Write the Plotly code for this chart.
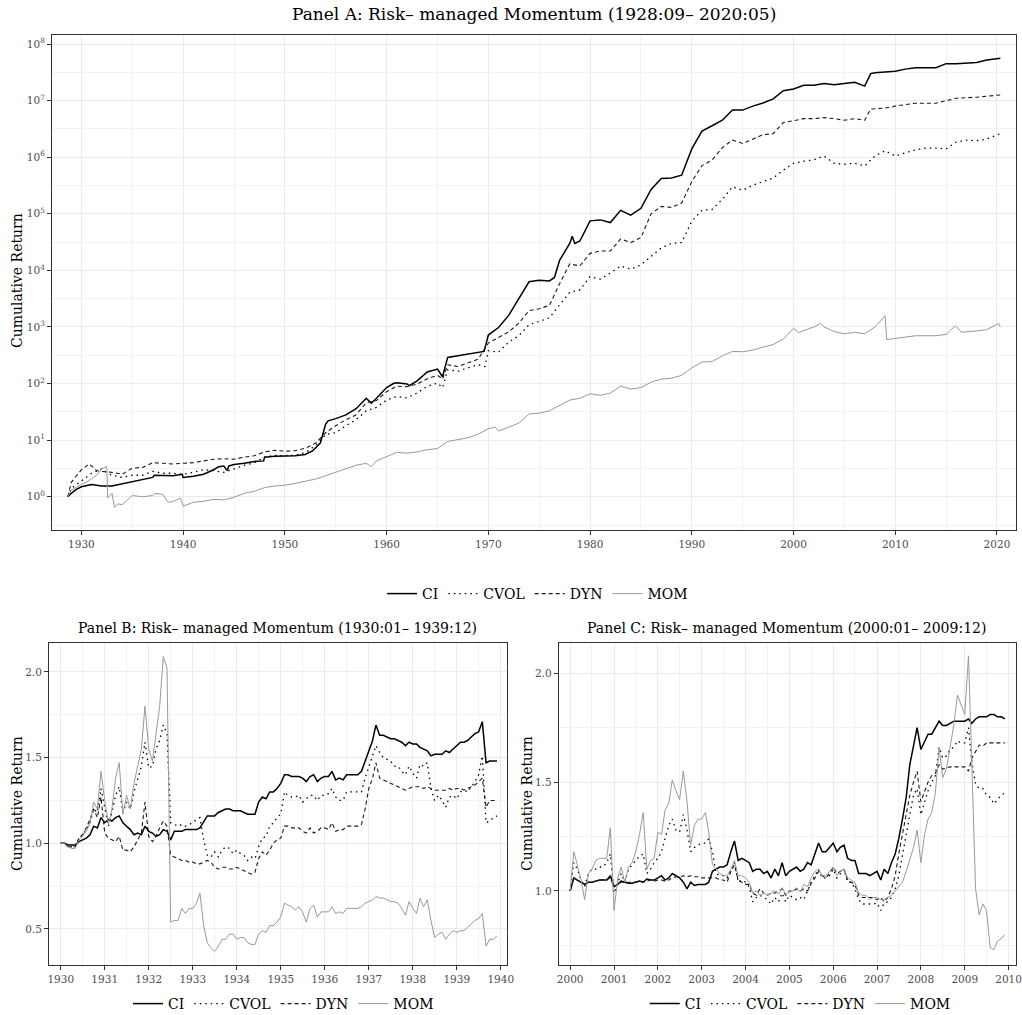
import pandas as pd
import plotly.graph_objects as go

FONT = "DejaVu Serif"

# ---------------- Panel A: 1928:09 - 2020:05 (log scale) ----------------
ci_a_dates = ["1928-09", "1929-01", "1929-07", "1930-01", "1931-01", "1932-01", "1933-01", "1934-01",
              "1935-01", "1936-01", "1937-01", "1937-03", "1938-01", "1939-01", "1939-12", "1940-01",
              "1941-01", "1942-01", "1943-01", "1943-07", "1944-01", "1944-05", "1944-07", "1945-01",
              "1946-01", "1947-01", "1947-12", "1948-01", "1949-01", "1950-01", "1951-01", "1952-01",
              "1952-10", "1953-07", "1954-01", "1954-04", "1955-01", "1956-01", "1957-01", "1958-01",
              "1958-07", "1959-01", "1960-01", "1960-09", "1961-01", "1962-01", "1962-04", "1963-01",
              "1964-01", "1965-01", "1965-07", "1966-01", "1967-01", "1968-01", "1969-01", "1969-08",
              "1970-01", "1971-01", "1972-01", "1973-01", "1974-01", "1975-01", "1976-01", "1976-07",
              "1977-01", "1978-01", "1978-04", "1978-07", "1979-01", "1980-01", "1981-01", "1982-01",
              "1983-01", "1984-01", "1984-07", "1985-01", "1986-01", "1987-01", "1988-01", "1989-01",
              "1990-01", "1991-01", "1992-01", "1993-01", "1994-01", "1995-01", "1996-01", "1997-01",
              "1998-01", "1999-01", "2000-01", "2001-01", "2002-01", "2003-01", "2004-01", "2005-01",
              "2006-01", "2007-01", "2007-08", "2008-01", "2010-01", "2011-01", "2012-01", "2014-01",
              "2015-01", "2016-01", "2018-01", "2019-01", "2020-05"]
ci_a = [1.0, 1.15, 1.35, 1.5, 1.65, 1.55, 1.55, 1.7,
        1.85, 2.05, 2.2, 2.4, 2.35, 2.35, 2.5, 2.2,
        2.3, 2.5, 3.0, 3.4, 3.5, 2.9, 3.5, 3.7,
        3.9, 4.2, 4.3, 5.0, 5.2, 5.2, 5.3, 5.6,
        6.5, 9.0, 19, 22, 24, 28, 36, 55,
        45, 55, 85, 100, 103, 98, 92, 112,
        160, 180, 132, 290, 310, 335, 360, 370,
        720, 980, 1600, 3200, 6300, 6700, 6500, 7500,
        15000, 30000, 40000, 30000, 33000, 75000, 78000, 70000,
        115000, 95000, 110000, 125000, 270000, 420000, 430000, 480000,
        1.4e6, 2.9e6, 3.6e6, 4.5e6, 6.8e6, 6.8e6, 8.0e6, 9.1e6,
        1.07e7, 1.5e7, 1.6e7, 1.86e7, 1.86e7, 2.0e7, 1.9e7, 2.0e7,
        2.1e7, 1.8e7, 3.0e7, 3.1e7, 3.3e7, 3.6e7, 3.8e7, 3.8e7,
        4.5e7, 4.5e7, 4.7e7, 5.2e7, 5.6e7]

dyn_a_dates = ["1928-09", "1929-01", "1930-01", "1930-10", "1931-01", "1931-07", "1932-01", "1933-01",
               "1934-01", "1935-01", "1936-01", "1937-01", "1938-01", "1939-01", "1940-01", "1941-01",
               "1942-01", "1943-01", "1944-01", "1945-01", "1946-01", "1947-01", "1948-01", "1949-01",
               "1950-01", "1951-01", "1952-01", "1953-01", "1954-01", "1955-01", "1956-01", "1957-01",
               "1958-01", "1959-01", "1960-01", "1961-01", "1962-01", "1963-01", "1964-01", "1965-01",
               "1965-07", "1966-01", "1967-01", "1968-01", "1969-01", "1970-01", "1971-01", "1972-01",
               "1973-01", "1974-01", "1975-01", "1976-01", "1977-01", "1978-01", "1979-01", "1980-01",
               "1981-01", "1982-01", "1983-01", "1984-01", "1985-01", "1986-01", "1987-01", "1988-01",
               "1989-01", "1990-01", "1991-01", "1992-01", "1993-01", "1994-01", "1995-01", "1996-01",
               "1997-01", "1998-01", "1999-01", "2000-01", "2001-01", "2002-01", "2003-01", "2004-01",
               "2005-01", "2006-01", "2007-01", "2007-08", "2009-01", "2010-01", "2012-01", "2014-01",
               "2015-01", "2016-01", "2018-01", "2019-01", "2020-05"]
dyn_a = [1.0, 1.8, 3.0, 3.8, 3.5, 2.9, 2.8, 2.7,
         2.5, 3.2, 3.3, 4.0, 3.9, 3.8, 3.9, 4.0,
         4.3, 4.6, 4.7, 4.6, 5.0, 5.3, 6.2, 6.6,
         6.4, 6.5, 7.2, 8.8, 13.5, 18, 23, 28,
         46, 50, 72, 90, 88, 98, 122, 140,
         120, 215, 200, 235, 270, 520, 650, 820,
         1170, 1950, 2100, 2400, 5800, 13000, 12000, 20000,
         22000, 22000, 36000, 31000, 38000, 100000, 135000, 130000,
         155000, 370000, 710000, 890000, 1.48e6, 2.0e6, 1.75e6, 2.1e6,
         2.5e6, 2.6e6, 4.1e6, 4.4e6, 4.8e6, 4.8e6, 5.0e6, 4.8e6,
         4.5e6, 4.8e6, 4.5e6, 7.1e6, 7.4e6, 8.0e6, 9.0e6, 9.0e6,
         1.0e7, 1.1e7, 1.15e7, 1.2e7, 1.26e7]

cvol_a_dates = ["1928-09", "1929-01", "1930-01", "1931-01", "1932-01", "1932-08", "1933-01", "1934-01",
                "1935-01", "1936-01", "1937-01", "1938-01", "1939-01", "1940-01", "1941-01", "1942-01",
                "1943-01", "1944-01", "1945-01", "1946-01", "1947-01", "1948-01", "1949-01", "1950-01",
                "1951-01", "1952-01", "1953-01", "1954-01", "1955-01", "1956-01", "1957-01", "1958-01",
                "1959-01", "1960-01", "1961-01", "1962-01", "1963-01", "1964-01", "1965-01", "1965-07",
                "1966-01", "1967-01", "1968-01", "1969-01", "1969-09", "1970-01", "1971-01", "1972-01",
                "1973-01", "1974-01", "1975-01", "1976-01", "1977-01", "1978-01", "1979-01", "1980-01",
                "1981-01", "1982-01", "1983-01", "1984-01", "1985-01", "1986-01", "1987-01", "1988-01",
                "1989-01", "1990-01", "1991-01", "1992-01", "1993-01", "1994-01", "1995-01", "1996-01",
                "1997-01", "1998-01", "1999-01", "2000-01", "2001-01", "2002-01", "2003-01", "2004-01",
                "2005-01", "2006-01", "2007-01", "2008-01", "2009-01", "2010-01", "2011-01", "2012-01",
                "2013-01", "2014-01", "2015-01", "2016-01", "2017-01", "2018-01", "2019-01", "2020-05"]
cvol_a = [1.0, 1.4, 1.9, 2.6, 3.1, 2.6, 2.4, 2.2,
          2.4, 2.4, 2.8, 2.6, 2.6, 2.5, 2.7, 3.0,
          2.9, 2.7, 3.1, 3.6, 4.0, 5.0, 5.4, 5.3,
          5.4, 6.0, 8.0, 12.5, 13.5, 18, 23, 33,
          38, 51, 59, 56, 68, 90, 102, 85,
          175, 165, 190, 215, 200, 380, 360, 540,
          700, 1100, 1260, 1450, 2450, 4100, 4500, 7800,
          7000, 9000, 12000, 10500, 12500, 17500, 25000, 30000,
          31000, 74000, 115000, 120000, 180000, 300000, 260000, 320000,
          370000, 430000, 590000, 780000, 850000, 900000, 1.05e6, 780000,
          750000, 780000, 700000, 1.05e6, 1.3e6, 1.05e6, 1.2e6, 1.35e6,
          1.45e6, 1.45e6, 1.4e6, 1.85e6, 2.0e6, 1.95e6, 2.1e6, 2.6e6]

mom_a_dates = ["1928-09", "1929-01", "1930-01", "1930-07", "1931-01", "1931-07", "1932-01", "1932-07",
               "1932-08", "1933-01", "1933-04", "1933-08", "1934-01", "1935-01", "1936-01", "1937-01",
               "1937-04", "1938-01", "1938-07", "1939-01", "1939-10", "1940-01", "1941-01", "1942-01",
               "1943-01", "1944-01", "1945-01", "1946-01", "1947-01", "1948-01", "1949-01", "1950-01",
               "1951-01", "1952-01", "1953-01", "1954-01", "1955-01", "1956-01", "1957-01", "1958-01",
               "1958-07", "1959-01", "1960-01", "1961-01", "1962-01", "1963-01", "1964-01", "1965-01",
               "1966-01", "1967-01", "1968-01", "1969-01", "1970-01", "1970-09", "1971-01", "1972-01",
               "1973-01", "1974-01", "1975-01", "1976-01", "1977-01", "1978-01", "1979-01", "1980-01",
               "1981-01", "1982-01", "1983-01", "1984-01", "1985-01", "1986-01", "1987-01", "1988-01",
               "1989-01", "1990-01", "1991-01", "1992-01", "1993-01", "1994-01", "1995-01", "1996-01",
               "1997-01", "1998-01", "1999-01", "2000-01", "2000-07", "2001-01", "2002-01", "2002-09",
               "2003-01", "2004-01", "2005-01", "2006-01", "2007-01", "2008-01", "2009-01", "2009-03",
               "2010-01", "2011-01", "2012-01", "2014-01", "2015-01", "2015-12", "2016-07", "2018-01",
               "2019-01", "2020-03", "2020-05"]
mom_a = [1.0, 1.3, 1.66, 1.8, 2.1, 2.4, 3.1, 3.45,
         0.95, 1.15, 0.65, 0.75, 0.72, 1.05, 1.0, 1.05,
         1.15, 1.1, 0.8, 0.82, 0.95, 0.68, 0.8, 0.83,
         0.9, 0.88, 0.98, 1.15, 1.25, 1.45, 1.55, 1.6,
         1.72, 1.9, 2.05, 2.35, 2.7, 3.1, 3.6, 3.9,
         3.4, 4.3, 5.2, 6.1, 5.9, 6.2, 6.8, 7.1,
         9.5, 10.2, 11, 12.8, 15.9, 17, 14.5, 17,
         20, 29, 30, 33, 41, 51, 55, 66,
         62, 68, 90, 80, 85, 106, 120, 124,
         140, 190, 240, 245, 310, 370, 365, 390,
         440, 490, 610, 940, 800, 870, 1000, 1160,
         1000, 830, 760, 800, 760, 1000, 1580, 600,
         630, 660, 700, 700, 740, 1050, 810, 850,
         900, 1150, 1000]

# ---------------- Panel B: 1930:01 - 1939:12 (monthly) ----------------
months_b = pd.date_range("1930-01-01", "1939-12-01", freq="MS")
ci_b = [1.00, 1.00, 0.99, 0.99, 0.99, 1.01, 1.02, 1.03, 1.05, 1.10,
        1.09, 1.15, 1.12, 1.14, 1.13, 1.15, 1.16, 1.12, 1.10, 1.08,
        1.05, 1.06, 1.05, 1.10, 1.07, 1.06, 1.04, 1.05, 1.08, 1.07,
        1.02, 1.07, 1.07, 1.07, 1.08, 1.08, 1.08, 1.08, 1.09, 1.13,
        1.16, 1.16, 1.16, 1.18, 1.19, 1.20, 1.20, 1.19, 1.19, 1.19,
        1.18, 1.17, 1.17, 1.17, 1.24, 1.27, 1.26, 1.30, 1.30, 1.32,
        1.35, 1.40, 1.40, 1.39, 1.39, 1.39, 1.38, 1.36, 1.39, 1.40,
        1.36, 1.38, 1.39, 1.39, 1.42, 1.37, 1.38, 1.37, 1.40, 1.40,
        1.40, 1.40, 1.42, 1.48, 1.53, 1.60, 1.69, 1.63, 1.63, 1.62,
        1.61, 1.61, 1.60, 1.59, 1.57, 1.59, 1.58, 1.58, 1.56, 1.55,
        1.54, 1.51, 1.52, 1.52, 1.52, 1.54, 1.53, 1.55, 1.57, 1.59,
        1.59, 1.60, 1.62, 1.64, 1.65, 1.71, 1.47, 1.48, 1.48, 1.48]
cvol_b = [1.00, 1.00, 0.98, 0.98, 0.98, 1.03, 1.05, 1.08, 1.12, 1.20,
          1.18, 1.32, 1.22, 1.10, 1.18, 1.28, 1.33, 1.18, 1.24, 1.20,
          1.30, 1.38, 1.45, 1.59, 1.44, 1.45, 1.55, 1.60, 1.69, 1.64,
          1.12, 1.11, 1.10, 1.11, 1.10, 1.11, 1.12, 1.14, 1.15, 1.02,
          0.93, 0.92, 0.95, 0.92, 0.96, 0.98, 0.97, 0.94, 0.96, 0.94,
          0.93, 0.90, 0.92, 0.91, 0.98, 1.03, 1.04, 1.10, 1.12, 1.15,
          1.17, 1.30, 1.28, 1.27, 1.27, 1.28, 1.24, 1.26, 1.28, 1.28,
          1.25, 1.28, 1.28, 1.29, 1.32, 1.27, 1.25, 1.25, 1.30, 1.30,
          1.30, 1.30, 1.30, 1.38, 1.45, 1.52, 1.57, 1.53, 1.50, 1.49,
          1.48, 1.45, 1.45, 1.42, 1.40, 1.45, 1.41, 1.38, 1.46, 1.45,
          1.47, 1.32, 1.25, 1.28, 1.25, 1.21, 1.27, 1.28, 1.26, 1.30,
          1.31, 1.30, 1.33, 1.36, 1.40, 1.51, 1.12, 1.13, 1.15, 1.16]
dyn_b = [1.00, 1.00, 0.98, 0.98, 0.98, 1.03, 1.05, 1.09, 1.14, 1.20,
         1.15, 1.27, 1.06, 1.03, 1.02, 1.01, 1.04, 0.96, 0.96, 0.95,
         0.98, 1.02, 1.06, 1.24, 1.04, 1.01, 1.04, 1.09, 1.13, 1.10,
         0.93, 0.92, 0.91, 0.90, 0.90, 0.89, 0.89, 0.88, 0.88, 0.89,
         0.90, 0.89, 0.86, 0.85, 0.86, 0.86, 0.85, 0.85, 0.86, 0.85,
         0.84, 0.83, 0.82, 0.83, 0.91, 0.95, 0.93, 0.96, 1.00, 1.02,
         1.03, 1.10, 1.10, 1.09, 1.09, 1.09, 1.07, 1.06, 1.09, 1.06,
         1.07, 1.09, 1.09, 1.08, 1.12, 1.07, 1.08, 1.08, 1.10, 1.10,
         1.10, 1.10, 1.11, 1.20, 1.32, 1.38, 1.47, 1.38, 1.37, 1.36,
         1.35, 1.34, 1.33, 1.32, 1.31, 1.32, 1.33, 1.33, 1.33, 1.32,
         1.33, 1.32, 1.31, 1.31, 1.31, 1.31, 1.32, 1.31, 1.32, 1.32,
         1.31, 1.32, 1.33, 1.34, 1.36, 1.38, 1.21, 1.25, 1.25, 1.25]
mom_b = [1.00, 1.00, 0.98, 0.97, 0.97, 1.02, 1.04, 1.07, 1.12, 1.24,
         1.20, 1.42, 1.25, 1.11, 1.20, 1.38, 1.47, 1.17, 1.28, 1.20,
         1.35, 1.45, 1.55, 1.80, 1.55, 1.48, 1.65, 1.80, 2.09, 2.02,
         0.54, 0.55, 0.55, 0.62, 0.59, 0.62, 0.62, 0.65, 0.71, 0.52,
         0.42, 0.39, 0.37, 0.40, 0.44, 0.44, 0.47, 0.47, 0.44, 0.45,
         0.45, 0.42, 0.41, 0.41, 0.47, 0.49, 0.48, 0.52, 0.52, 0.54,
         0.57, 0.65, 0.64, 0.63, 0.61, 0.63, 0.60, 0.54, 0.62, 0.64,
         0.57, 0.60, 0.60, 0.60, 0.63, 0.59, 0.60, 0.59, 0.62, 0.62,
         0.62, 0.62, 0.63, 0.65, 0.66, 0.67, 0.69, 0.68, 0.68, 0.67,
         0.66, 0.66, 0.65, 0.62, 0.58, 0.66, 0.62, 0.59, 0.68, 0.63,
         0.67, 0.55, 0.45, 0.47, 0.48, 0.44, 0.47, 0.49, 0.48, 0.49,
         0.49, 0.51, 0.53, 0.55, 0.56, 0.59, 0.40, 0.44, 0.44, 0.46]

# ---------------- Panel C: 2000:01 - 2009:12 (monthly) ----------------
months_c = pd.date_range("2000-01-01", "2009-12-01", freq="MS")
ci_c = [1.00, 1.06, 1.05, 1.04, 1.03, 1.04, 1.04, 1.045, 1.05, 1.05,
        1.05, 1.07, 1.02, 1.03, 1.045, 1.04, 1.035, 1.035, 1.04, 1.045,
        1.04, 1.055, 1.05, 1.05, 1.06, 1.07, 1.05, 1.06, 1.08, 1.07,
        1.06, 1.04, 1.01, 1.04, 1.025, 1.03, 1.03, 1.03, 1.04, 1.09,
        1.10, 1.11, 1.11, 1.12, 1.18, 1.23, 1.14, 1.15, 1.14, 1.13,
        1.09, 1.10, 1.10, 1.08, 1.09, 1.06, 1.10, 1.07, 1.13, 1.07,
        1.09, 1.10, 1.11, 1.09, 1.10, 1.13, 1.12, 1.17, 1.22, 1.18,
        1.18, 1.20, 1.22, 1.18, 1.20, 1.21, 1.15, 1.14, 1.14, 1.08,
        1.08, 1.08, 1.07, 1.08, 1.09, 1.05, 1.10, 1.08, 1.13, 1.17,
        1.24, 1.33, 1.43, 1.58, 1.66, 1.75, 1.65, 1.69, 1.72, 1.72,
        1.75, 1.78, 1.76, 1.76, 1.77, 1.78, 1.78, 1.78, 1.78, 1.79,
        1.77, 1.79, 1.80, 1.80, 1.80, 1.81, 1.81, 1.80, 1.80, 1.79]
cvol_c = [1.00, 1.13, 1.10, 1.05, 1.02, 1.08, 1.10, 1.10, 1.11, 1.11,
          1.13, 1.17, 0.99, 1.04, 1.08, 1.04, 1.10, 1.12, 1.14, 1.16,
          1.17, 1.08, 1.10, 1.13, 1.15, 1.18, 1.24, 1.30, 1.33, 1.28,
          1.27, 1.35, 1.28, 1.18, 1.20, 1.21, 1.22, 1.22, 1.24, 1.18,
          1.08, 1.07, 1.07, 1.06, 1.10, 1.13, 1.04, 1.05, 1.04, 1.02,
          0.95, 0.97, 0.98, 0.97, 0.96, 0.94, 0.97, 0.95, 0.99, 0.95,
          0.98, 0.97, 0.96, 0.97, 0.96, 1.00, 1.04, 1.07, 1.10, 1.06,
          1.06, 1.07, 1.10, 1.06, 1.08, 1.10, 1.04, 1.04, 1.01, 0.96,
          0.94, 0.94, 0.94, 0.94, 0.945, 0.91, 0.945, 0.95, 0.97, 1.01,
          1.07, 1.17, 1.26, 1.35, 1.44, 1.47, 1.35, 1.41, 1.46, 1.50,
          1.53, 1.66, 1.61, 1.62, 1.65, 1.66, 1.69, 1.68, 1.68, 1.75,
          1.59, 1.49, 1.47, 1.47, 1.44, 1.43, 1.40, 1.42, 1.44, 1.45]
dyn_c = [1.00, 1.06, 1.05, 1.04, 1.03, 1.04, 1.04, 1.045, 1.05, 1.05,
         1.05, 1.06, 1.02, 1.03, 1.04, 1.04, 1.04, 1.04, 1.04, 1.045,
         1.04, 1.045, 1.05, 1.045, 1.05, 1.05, 1.045, 1.05, 1.06, 1.065,
         1.065, 1.07, 1.065, 1.07, 1.065, 1.065, 1.06, 1.06, 1.06, 1.06,
         1.06, 1.05, 1.05, 1.04, 1.09, 1.12, 1.05, 1.04, 1.03, 1.03,
         0.99, 0.98, 1.01, 0.99, 0.98, 0.99, 0.99, 1.00, 1.01, 0.98,
         1.00, 1.00, 1.01, 1.00, 1.01, 1.00, 1.035, 1.06, 1.09, 1.07,
         1.06, 1.08, 1.11, 1.08, 1.09, 1.10, 1.05, 1.04, 1.03, 0.98,
         0.97, 0.97, 0.97, 0.97, 0.96, 0.97, 0.95, 0.97, 1.01, 1.07,
         1.17, 1.26, 1.35, 1.44, 1.50, 1.55, 1.41, 1.46, 1.50, 1.53,
         1.54, 1.58, 1.56, 1.565, 1.57, 1.57, 1.57, 1.57, 1.57, 1.55,
         1.61, 1.64, 1.67, 1.665, 1.68, 1.68, 1.68, 1.68, 1.68, 1.68]
mom_c = [1.00, 1.18, 1.12, 1.05, 0.96, 1.08, 1.10, 1.14, 1.15, 1.15,
         1.15, 1.29, 0.91, 1.06, 1.11, 1.04, 1.11, 1.13, 1.18, 1.26,
         1.36, 1.10, 1.14, 1.15, 1.27, 1.26, 1.37, 1.40, 1.51, 1.46,
         1.42, 1.55, 1.41, 1.21, 1.30, 1.33, 1.33, 1.36, 1.27, 1.12,
         1.10, 1.08, 1.07, 1.07, 1.10, 1.14, 1.07, 1.07, 1.06, 1.04,
         0.99, 1.00, 0.98, 0.99, 0.98, 0.99, 1.00, 0.985, 1.015, 0.985,
         0.995, 1.00, 1.015, 0.995, 1.03, 1.02, 1.06, 1.09, 1.10, 1.07,
         1.07, 1.09, 1.11, 1.07, 1.09, 1.10, 1.06, 1.05, 1.04, 0.99,
         0.98, 0.98, 0.96, 0.97, 0.97, 0.96, 0.96, 0.97, 0.98, 1.00,
         1.02, 1.04, 1.09, 1.14, 1.20, 1.28, 1.13, 1.26, 1.33, 1.36,
         1.45, 1.66, 1.52, 1.56, 1.66, 1.76, 1.90, 1.86, 1.81, 2.08,
         1.56, 1.01, 0.89, 0.94, 0.91, 0.74, 0.73, 0.77, 0.78, 0.80]

series_names = ["CI", "CVOL", "DYN", "MOM"]
line_styles = {
    "CI": dict(color="#000000", width=1.5),
    "CVOL": dict(color="#000000", width=1.3, dash="1.5px,4px"),
    "DYN": dict(color="#1a1a1a", width=1.1, dash="4px,3px"),
    "MOM": dict(color="#999999", width=1.0),
}

panels = [
    ("x", "y", "legend", {"CI": (ci_a_dates, ci_a), "CVOL": (cvol_a_dates, cvol_a),
                          "DYN": (dyn_a_dates, dyn_a), "MOM": (mom_a_dates, mom_a)}),
    ("x2", "y2", "legend2", {"CI": (months_b, ci_b), "CVOL": (months_b, cvol_b),
                             "DYN": (months_b, dyn_b), "MOM": (months_b, mom_b)}),
    ("x3", "y3", "legend3", {"CI": (months_c, ci_c), "CVOL": (months_c, cvol_c),
                             "DYN": (months_c, dyn_c), "MOM": (months_c, mom_c)}),
]

fig = go.Figure()
for xa, ya, leg, data in panels:
    for name in series_names:
        xs, ys = data[name]
        fig.add_trace(go.Scatter(x=xs, y=ys, name=name, mode="lines",
                                 line=line_styles[name], xaxis=xa, yaxis=ya,
                                 legend=leg, hoverinfo="skip"))

GRID = "#EBEBEB"
MINOR_GRID = "#F2F2F2"
BORDER = "#333333"
TICKFONT = dict(family=FONT, size=10.5, color="#4D4D4D")

common = dict(showgrid=True, gridcolor=GRID, gridwidth=1.2, zeroline=False,
              showline=True, linecolor=BORDER, linewidth=1, mirror=True,
              ticks="outside", ticklen=4, tickcolor=BORDER, tickwidth=1,
              tickfont=TICKFONT, automargin=False, ticklabeloverflow="allow")

# Decade ticks for the log panel
pow_vals = [10 ** k for k in range(0, 9)]
pow_text = ["10<sup>%d</sup>" % k for k in range(0, 9)]
half_decades = [10 ** (k + 0.5) for k in range(-1, 8)]

fig.update_layout(
    width=1022, height=1015,
    margin=dict(l=0, r=0, t=0, b=0, autoexpand=False),
    paper_bgcolor="white", plot_bgcolor="white",
    font=dict(family=FONT, color="black"),
    xaxis=dict(domain=[0.0509, 0.9941], anchor="y", type="date",
               range=["1927-02-10", "2021-11-13"], tick0="1930-01-01", dtick="M120",
               tickformat="%Y",
               minor=dict(dtick="M60", tick0="1925-01-01", showgrid=True,
                          gridcolor=MINOR_GRID, gridwidth=1), **common),
    yaxis=dict(domain=[0.4778, 0.9655], anchor="x", type="log",
               range=[-0.588, 8.159], tickmode="array", tickvals=pow_vals, ticktext=pow_text,
               minor=dict(tickmode="array", tickvals=half_decades, showgrid=True,
                          gridcolor=MINOR_GRID, gridwidth=1), **common),
    xaxis2=dict(domain=[0.0479, 0.4961], anchor="y2", type="date",
                range=["1929-09-25", "1940-02-22"], tick0="1930-01-01", dtick="M12",
                tickformat="%Y",
                minor=dict(dtick="M6", tick0="1930-01-01", showgrid=True,
                           gridcolor=MINOR_GRID, gridwidth=1), **common),
    yaxis2=dict(domain=[0.0493, 0.3665], anchor="x2", range=[0.29, 2.169],
                tickmode="array", tickvals=[0.5, 1.0, 1.5, 2.0],
                ticktext=["0.5", "1.0", "1.5", "2.0"],
                minor=dict(tickmode="array", tickvals=[0.75, 1.25, 1.75], showgrid=True,
                           gridcolor=MINOR_GRID, gridwidth=1), **common),
    xaxis3=dict(domain=[0.5467, 0.9938], anchor="y3", type="date",
                range=["1999-09-28", "2010-03-01"], tick0="2000-01-01", dtick="M12",
                tickformat="%Y",
                minor=dict(dtick="M6", tick0="2000-01-01", showgrid=True,
                           gridcolor=MINOR_GRID, gridwidth=1), **common),
    yaxis3=dict(domain=[0.0493, 0.3665], anchor="x3", range=[0.66, 2.139],
                tickmode="array", tickvals=[1.0, 1.5, 2.0],
                ticktext=["1.0", "1.5", "2.0"],
                minor=dict(tickmode="array", tickvals=[0.75, 1.25, 1.75], showgrid=True,
                           gridcolor=MINOR_GRID, gridwidth=1), **common),
)

legend_style = dict(orientation="h", xanchor="center", yanchor="middle",
                    font=dict(family=FONT, size=14, color="black"),
                    itemwidth=30, bgcolor="rgba(0,0,0,0)", traceorder="normal")
fig.update_layout(
    legend=dict(x=0.526, y=1 - 594 / 1015, **legend_style),
    legend2=dict(x=0.2774, y=1 - 1004 / 1015, **legend_style),
    legend3=dict(x=0.783, y=1 - 1004 / 1015, **legend_style),
)

titles = [
    ("Panel A: Risk\u2013 managed Momentum (1928:09\u2013 2020:05)", 0.5225, 1 - 14 / 1015, 17),
    ("Panel B: Risk\u2013 managed Momentum (1930:01\u2013 1939:12)", 0.272, 1 - 628 / 1015, 14),
    ("Panel C: Risk\u2013 managed Momentum (2000:01\u2013 2009:12)", 0.7696, 1 - 628 / 1015, 14),
]
for text, x, y, size in titles:
    fig.add_annotation(text=text, x=x, y=y, xref="paper", yref="paper",
                       xanchor="center", yanchor="middle", showarrow=False,
                       font=dict(family=FONT, size=size, color="black"))

ylabels = [(17 / 1022, 1 - 281 / 1015), (17 / 1022, 1 - 804 / 1015), (527 / 1022, 1 - 804 / 1015)]
for x, y in ylabels:
    fig.add_annotation(text="Cumulative Return", x=x, y=y, xref="paper", yref="paper",
                       xanchor="center", yanchor="middle", textangle=-90, showarrow=False,
                       font=dict(family=FONT, size=14, color="black"))

fig.write_html("out.html")
